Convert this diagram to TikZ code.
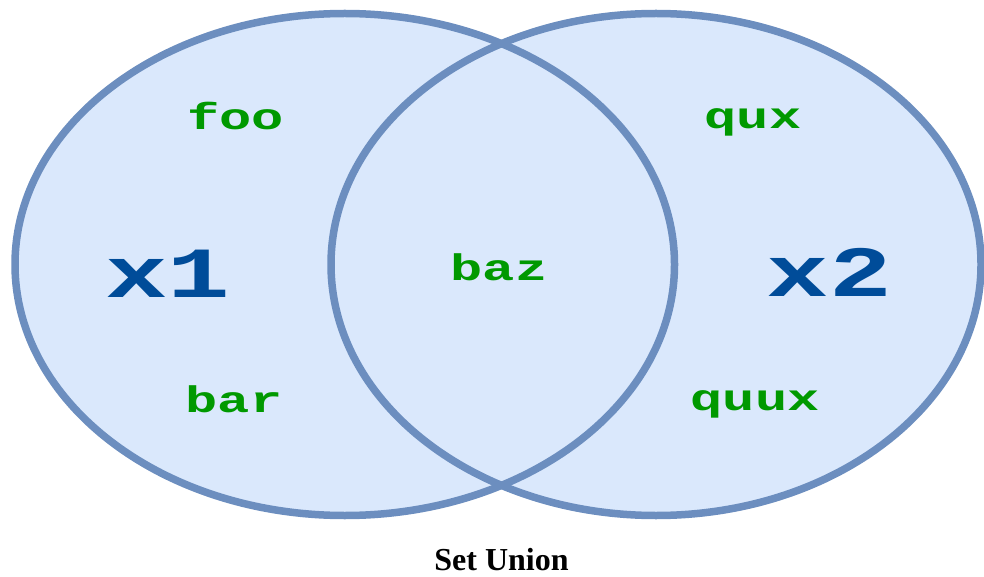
\documentclass[tikz,border=0pt]{standalone}
\usepackage{fontspec}
\setmainfont{Liberation Serif}
\newfontfamily\courfont{Liberation Mono}
\definecolor{setfill}{HTML}{DAE8FC}
\definecolor{setline}{HTML}{6C8EBF}
\definecolor{itemgreen}{HTML}{009900}
\definecolor{setname}{HTML}{004C99}
\tikzset{
  item/.style={text=itemgreen, font=\courfont\bfseries\fontsize{37}{37}\selectfont, inner sep=0pt, anchor=base, xscale=1.45},
  setlabel/.style={text=setname, font=\courfont\bfseries\fontsize{72}{72}\selectfont, inner sep=0pt, anchor=base, xscale=1.45},
  caption/.style={text=black, font=\bfseries\fontsize{32}{32}\selectfont, inner sep=0pt, anchor=base},
}
\begin{document}
\begin{tikzpicture}[x=1pt,y=-1pt]
\useasboundingbox (0,0) rectangle (984,577);
\fill[setfill] (344.75,264.5) ellipse [x radius=329.75, y radius=251];
\fill[setfill] (656,264.5) ellipse [x radius=325, y radius=251];
\draw[setline, line width=7.5pt] (344.75,264.5) ellipse [x radius=329.75, y radius=251];
\draw[setline, line width=7.5pt] (656,264.5) ellipse [x radius=325, y radius=251];
\node[item] (foo) at (235.5,130) {foo};
\node[item] (qux) at (753,129) {qux};
\node[item] (baz) at (499,280) {baz};
\node[item] (bar) at (234,412) {bar};
\node[item] (quux) at (755,410) {quux};
\node[setlabel] (x1) at (168,297) {x1};
\node[setlabel] (x2) at (829,296) {x2};
\node[caption] (cap) at (501.5,570) {Set Union};
\end{tikzpicture}
\end{document}
